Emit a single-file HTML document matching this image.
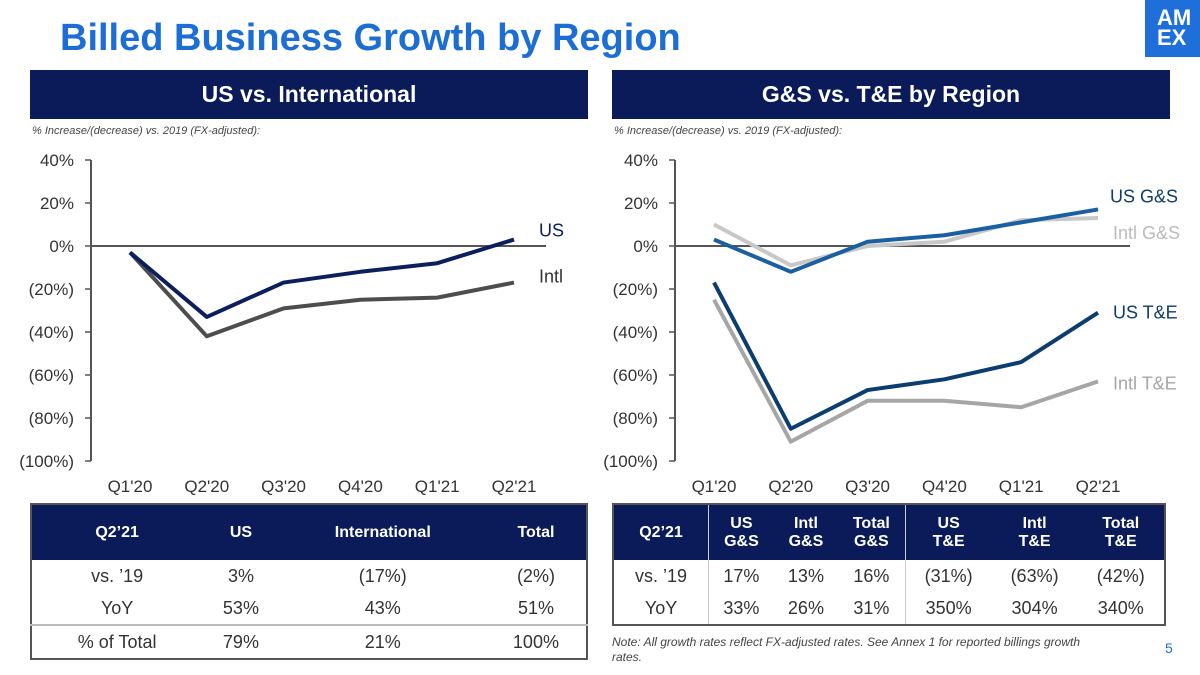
<!DOCTYPE html>
<html><head><meta charset="utf-8"><style>
body{margin:0;width:1200px;height:675px;background:#fff;font-family:"Liberation Sans",Arial,sans-serif;position:relative;overflow:hidden}
.abs{position:absolute}
.title{left:60px;top:17px;font-size:38px;font-weight:bold;color:#1c6ed4}
.hdr{height:49px;top:70px;background:#0b1b5a;color:#fff;font-size:23px;font-weight:bold;text-align:center;line-height:49px}
.sub{font-size:11px;font-style:italic;color:#444;top:125px}
table{position:absolute;border-collapse:collapse;border:2px solid #555;font-size:18px;color:#333}
th{background:#0b1b5a;color:#fff;font-size:16px;font-weight:bold;height:55px;padding:0}
td{text-align:center;height:32px;padding:0}
</style></head><body>
<div class="abs title">Billed Business Growth by Region</div>
<div class="abs" style="left:1145px;top:0;width:55px;height:57px;background:#1e6fd9;color:#fff;font-weight:bold;font-size:22px;line-height:20px;padding-top:8px;box-sizing:border-box;padding-left:12px;overflow:hidden">AM<br>EX</div>
<div class="abs hdr" style="left:30px;width:558px">US vs. International</div>
<div class="abs hdr" style="left:612px;width:558px">G&amp;S vs. T&amp;E by Region</div>
<div class="abs sub" style="left:32px">% Increase/(decrease) vs. 2019 (FX-adjusted):</div>
<div class="abs sub" style="left:614px">% Increase/(decrease) vs. 2019 (FX-adjusted):</div>
<svg class="abs" style="left:0;top:0" width="1200" height="675" id="chart"></svg>

<table style="left:30px;top:503px;width:558px">
<tr><th>Q2’21</th><th>US</th><th>International</th><th>Total</th></tr>
<tr><td>vs. ’19</td><td>3%</td><td>(17%)</td><td>(2%)</td></tr>
<tr><td>YoY</td><td>53%</td><td>43%</td><td>51%</td></tr>
<tr style="border-top:2px solid #bbb"><td>% of Total</td><td>79%</td><td>21%</td><td>100%</td></tr>
</table>
<table style="left:612px;top:503px;width:554px">
<tr><th>Q2’21</th><th style="border-left:1px solid #ccc">US<br>G&amp;S</th><th>Intl<br>G&amp;S</th><th>Total<br>G&amp;S</th><th style="border-left:1px solid #ccc">US<br>T&amp;E</th><th>Intl<br>T&amp;E</th><th>Total<br>T&amp;E</th></tr>
<tr><td>vs. ’19</td><td style="border-left:1px solid #ccc">17%</td><td>13%</td><td>16%</td><td style="border-left:1px solid #ccc">(31%)</td><td>(63%)</td><td>(42%)</td></tr>
<tr><td>YoY</td><td style="border-left:1px solid #ccc">33%</td><td>26%</td><td>31%</td><td style="border-left:1px solid #ccc">350%</td><td>304%</td><td>340%</td></tr>
</table>
<div class="abs" style="left:612px;top:635px;font-size:12px;font-style:italic;color:#444;width:480px;line-height:15px">Note: All growth rates reflect FX-adjusted rates. See Annex 1 for reported billings growth rates.</div>
<div class="abs" style="left:1165px;top:640px;font-size:14px;color:#1c6ed4">5</div>
<script>
const categories=["Q1'20","Q2'20","Q3'20","Q4'20","Q1'21","Q2'21"];
const ticks=[40,20,0,-20,-40,-60,-80,-100];
const usVals=[-3,-33,-17,-12,-8,3];
const intlVals=[-3,-42,-29,-25,-24,-17];
const usGS=[3,-12,2,5,11,17];
const intlGS=[10,-9,0,2,12,13];
const usTE=[-17,-85,-67,-62,-54,-31];
const intlTE=[-25,-91,-72,-72,-75,-63];
const svg=document.getElementById('chart');const NS='http://www.w3.org/2000/svg';
function mk(t,a){const e=document.createElementNS(NS,t);for(const k in a)e.setAttribute(k,a[k]);svg.appendChild(e);return e;}
const y=v=>246-v*2.15;
function panel(ax,x0,series,tag){
  const x=i=>x0+i*76.8;
  const a=mk('line',{x1:ax,y1:160,x2:ax,y2:461,stroke:'#555','stroke-width':2});
  
  const z=mk('line',{x1:ax,y1:y(0),x2:ax+455,y2:y(0),stroke:'#555','stroke-width':2});
  
  ticks.forEach(t=>{const tx=mk('text',{x:ax-17,y:y(t)+6,'text-anchor':'end','font-size':17,fill:'#333'});
    tx.textContent=t<0?'('+(-t)+'%)':t+'%';
    
    mk('line',{x1:ax-6,y1:y(t),x2:ax,y2:y(t),stroke:'#555','stroke-width':1.5});});
  categories.forEach((c,i)=>{const tx=mk('text',{x:x(i),y:492,'text-anchor':'middle','font-size':17,fill:'#333'});tx.textContent=c;
    });
  series.forEach(s=>{const p=mk('polyline',{points:s.v.map((v,i)=>x(i)+','+y(v)).join(' '),fill:'none',stroke:s.c,'stroke-width':4,'stroke-linejoin':'round'});
    
    const last=s.v[s.v.length-1];
    const l=mk('text',{x:x(5)+s.dx,y:y(last)+s.dy,'font-size':18,fill:s.lc||s.c});l.textContent=s.label;
    });
}
panel(91,130,[{v:intlVals,c:'#4d4d4f',n:'intl-line',label:'Intl',dx:25,dy:0,lc:'#333'},{v:usVals,c:'#0b1f5c',n:'us-line',label:'US',dx:25,dy:-3,lc:'#0b1f5c'}],'left');
panel(675,714,[{v:intlTE,c:'#a6a6a6',n:'intl-te-line',label:'Intl T&E',dx:15,dy:8},{v:usTE,c:'#0b3d6e',n:'us-te-line',label:'US T&E',dx:15,dy:6},{v:intlGS,c:'#c8c8c8',n:'intl-gs-line',label:'Intl G&S',dx:15,dy:21,lc:'#bbb'},{v:usGS,c:'#1a5fa0',n:'us-gs-line',label:'US G&S',dx:12,dy:-7,lc:'#0b3d6e'}],'right');
</script>
</body></html>
